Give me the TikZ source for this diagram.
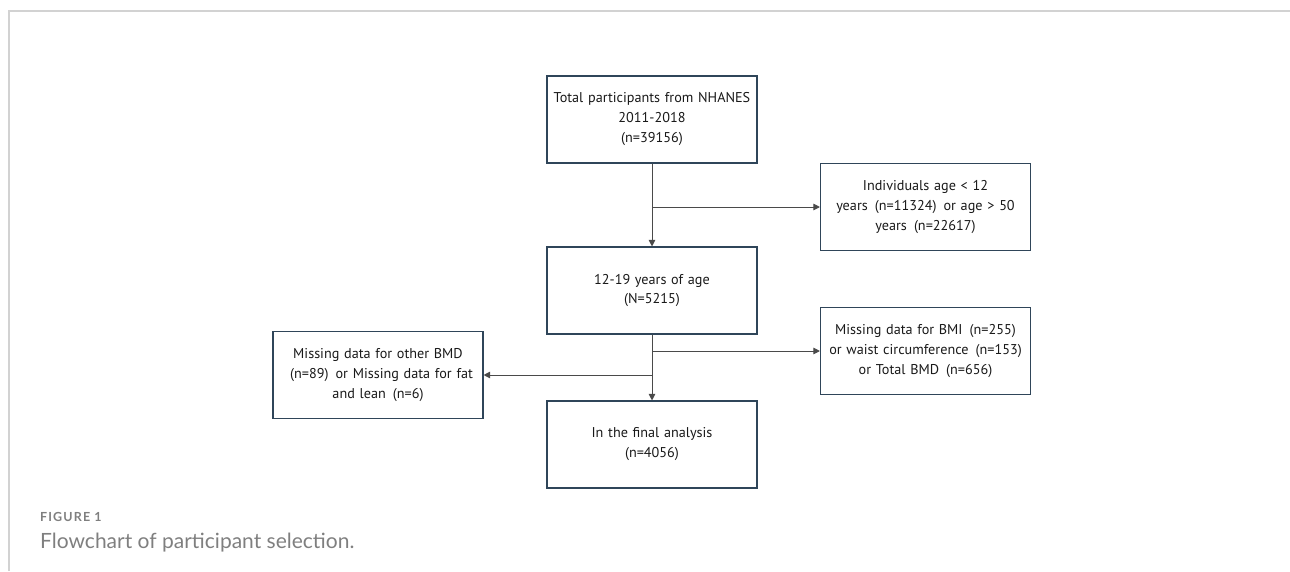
\documentclass[tikz,border=0pt]{standalone}
\usepackage{fontspec}
\setmainfont{PT Sans}
\newfontfamily\capfont{Lato}
\usetikzlibrary{arrows.meta}
\definecolor{boxedge}{HTML}{2F4559}
\definecolor{flowline}{HTML}{4A4A4A}
\definecolor{framegray}{HTML}{D2D2D2}
\definecolor{captiongray}{HTML}{7F7F7F}

\begin{document}
\begin{tikzpicture}[
    stage/.style={rectangle, draw=boxedge, line width=1.1pt, minimum width=210pt, minimum height=87pt,
                  inner sep=2pt, align=center, text width=206pt, font=\fontsize{14.2}{20}\selectfont, text=black!90},
    drop/.style={stage},
    arr/.style={draw=flowline, line width=1pt, -{Triangle[length=6.5pt, width=6.5pt]}},
    x=1pt, y=-1pt]

    % ----- page frame and bounding box
    \useasboundingbox (0, 0) rectangle (1290, 571);
    \draw[framegray, line width=1.3pt] (9, 571) -- (9, 11) -- (1290, 11);

    % ----- main column
    \node[stage] (total) at (652, 119.5) {Total participants from NHANES\\2011-2018\\(n=39156)};
    \node[stage] (age)   at (652, 290.5) {12-19 years of age\\(N=5215)};
    \node[stage] (final) at (652, 444.5) {In the final analysis\\(n=4056)};

    % ----- exclusions
    \node[drop] (agecut)  at (925.5, 207) {Individuals age < 12\\years\enspace(n=11324)\enspace or age > 50\\years\enspace(n=22617)};
    \node[drop] (missing) at (925.5, 351) {Missing data for BMI\enspace(n=255)\\or waist circumference\enspace(n=153)\\or Total BMD\enspace(n=656)};
    \node[drop] (otherbmd) at (378, 375) {Missing data for other BMD\\\enspace(n=89)\enspace or Missing data for fat\\and lean\enspace(n=6)};

    % ----- connectors
    \coordinate (split1) at (total.south |- agecut.west);
    \coordinate (split2) at (age.south |- missing.west);
    \coordinate (split3) at (age.south |- otherbmd.east);
    \draw[arr] (total) -- (age);
    \draw[arr] (age) -- (final);
    \draw[arr] (split1) -- (agecut);
    \draw[arr] (split2) -- (missing);
    \draw[arr] (split3) -- (otherbmd);

    % ----- caption
    \node[anchor=base west, inner sep=0pt, text=captiongray, font=\capfont\bfseries\fontsize{12.5}{14}\selectfont\addfontfeature{LetterSpace=9}] (fignum) at (40, 521) {FIGURE 1};
    \node[anchor=base west, inner sep=0pt, text=captiongray, font=\capfont\fontsize{21}{24}\selectfont] (figcap) at (40, 548) {Flowchart of participant selection.};
\end{tikzpicture}
\end{document}
